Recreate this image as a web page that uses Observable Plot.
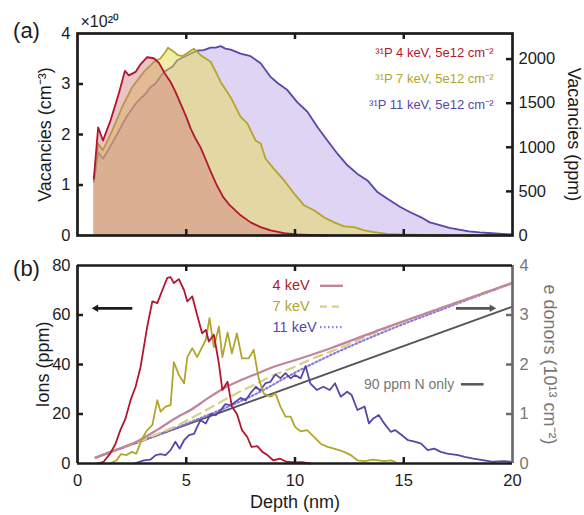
<!DOCTYPE html>
<html>
<head>
<meta charset="utf-8">
<script src="https://cdn.jsdelivr.net/npm/d3@7"></script>
<script src="https://cdn.jsdelivr.net/npm/@observablehq/plot@0.6"></script>
<style>
  body { margin: 0; background: white; }
  #wrap { position: relative; width: 584px; height: 515px; overflow: hidden; }
  #wrap svg { position: absolute; left: 0; }
</style>
</head>
<body>
<div id="wrap"></div>
<script>
// ---------- data (depth nm, value) ----------
// Panel (a): vacancies, units of 1e20 cm^-3
const vac4 = [[0.75,1.12],[0.95,2.14],[1.17,1.88],[1.52,2.28],[1.9,2.81],[2.18,3.26],[2.36,3.17],[2.67,3.24],[2.9,3.39],[3.2,3.53],[3.51,3.51],[3.74,3.42],[4.0,3.22],[4.28,3.04],[4.5,2.85],[4.74,2.61],[5.0,2.35],[5.2,2.12],[5.45,1.9],[5.65,1.75],[5.9,1.5],[6.1,1.29],[6.4,1.0],[6.7,0.76],[7.0,0.6],[7.5,0.40],[7.96,0.26],[8.42,0.165],[8.88,0.10],[9.5,0.046],[10.1,0.02],[10.9,0.007],[11.5,0]];
const vac7 = [[0.75,1.08],[0.95,1.82],[1.17,1.69],[1.6,2.08],[2.06,2.55],[2.52,2.94],[3.05,3.24],[3.59,3.47],[3.8,3.5],[4.05,3.64],[4.16,3.72],[4.43,3.64],[4.62,3.57],[4.82,3.55],[5.1,3.63],[5.35,3.70],[5.66,3.57],[6.12,3.44],[6.35,3.25],[6.58,3.04],[7.04,2.74],[7.5,2.35],[7.81,2.22],[8.19,1.88],[8.42,1.82],[8.65,1.52],[9.03,1.32],[9.5,1.09],[9.96,0.83],[10.41,0.60],[10.87,0.50],[11.33,0.36],[11.8,0.26],[12.26,0.18],[12.72,0.165],[13.18,0.10],[13.64,0.066],[14.25,0.033],[14.9,0.02],[16,0.01],[17,0]];
const vac11 = [[0.75,1.06],[0.95,1.65],[1.17,1.52],[1.45,1.72],[1.75,1.95],[2.21,2.32],[2.67,2.61],[3.13,2.81],[3.36,2.94],[3.59,3.01],[3.97,3.24],[4.36,3.34],[4.59,3.47],[5.05,3.57],[5.5,3.66],[5.8,3.67],[6.12,3.72],[6.35,3.72],[6.58,3.75],[6.8,3.70],[7.04,3.68],[7.5,3.60],[7.96,3.55],[8.42,3.41],[8.88,3.14],[9.2,3.02],[9.65,2.88],[10.1,2.64],[10.57,2.45],[11.03,2.15],[11.49,1.88],[11.95,1.62],[12.41,1.39],[12.87,1.22],[13.33,1.09],[13.79,0.86],[14.25,0.73],[14.86,0.56],[15.3,0.46],[15.8,0.36],[16.2,0.26],[16.7,0.20],[17.1,0.15],[17.6,0.11],[18.0,0.08],[18.5,0.06],[19.2,0.04],[20,0.02]];

// Panel (b): ions (ppm)
const ions4 = [[0.9,0],[1.2,0.7],[1.5,4],[1.75,8],[1.97,13.5],[2.2,18],[2.44,25.6],[2.67,31],[2.9,39],[3.2,55],[3.44,65.5],[3.67,64.8],[3.9,70],[4.13,75],[4.28,75.3],[4.43,72.9],[4.66,74.5],[4.9,70],[5.05,65.5],[5.28,67.5],[5.5,60],[5.73,52.6],[5.9,54],[6.04,49.3],[6.27,52],[6.5,40.5],[6.66,29.7],[6.9,33],[7.1,23],[7.33,20],[7.56,13.5],[7.8,10.8],[8.0,6.7],[8.27,7],[8.5,4.7],[8.73,3.4],[9.0,1.3],[9.3,2],[9.6,0.7],[9.96,0.4],[10.3,0.5],[10.7,0]];
const ions7 = [[1.5,0],[1.8,1.3],[2.0,3.8],[2.26,3.4],[2.5,4.7],[2.7,4],[2.97,10],[3.2,13.5],[3.44,15.5],[3.67,25.6],[3.82,21],[4.05,23],[4.28,23.6],[4.43,41],[4.66,35.8],[4.9,32.4],[5.05,43],[5.28,46.6],[5.5,43],[5.73,47],[5.9,50],[6.07,58.7],[6.27,47],[6.5,55.3],[6.66,43],[6.9,53],[7.1,44.5],[7.33,52.6],[7.56,42.5],[7.87,42.5],[8.1,45.9],[8.33,34.4],[8.56,28.3],[8.87,27],[9.1,28.3],[9.33,23],[9.56,18.9],[9.8,18.9],[10.0,14.8],[10.26,13],[10.56,13.5],[10.87,10.8],[11.18,8],[11.5,6.7],[11.8,6],[12.26,4.7],[12.56,3.4],[12.87,1.3],[13.2,1],[13.6,1.6],[14.1,1],[14.4,1.3],[14.6,0.7]];
const ions11 = [[2.6,0],[3.05,1.3],[3.36,1.6],[3.6,3.4],[3.82,3.8],[4.05,3.4],[4.28,5.4],[4.5,8.8],[4.7,6],[4.9,9.4],[5.13,11.5],[5.36,12],[5.5,14.8],[5.66,17.5],[5.9,16.2],[6.12,20],[6.35,19.5],[6.58,21.5],[6.8,24],[7.04,23.5],[7.27,25],[7.5,26.5],[7.73,25.5],[7.96,28.5],[8.2,31],[8.4,29.5],[8.65,32.5],[8.87,33],[9.1,36],[9.33,34.5],[9.56,36.5],[9.8,34.4],[10.0,35.8],[10.26,34.4],[10.49,39.4],[10.7,32.4],[11.0,29.7],[11.3,31],[11.6,29.7],[11.84,32.4],[12.1,27],[12.4,29],[12.6,27.7],[12.87,21.6],[13.2,23],[13.4,16.2],[13.6,18.2],[13.85,19.6],[14.1,16.2],[14.4,12.8],[14.6,13.5],[14.9,11.5],[15.2,9.4],[15.5,8.8],[15.8,8],[16.1,5.4],[16.4,6],[16.7,4.7],[17.0,4],[17.5,3.4],[17.8,2.7],[18.2,2],[18.7,1.3],[19.1,0.7],[19.6,1],[19.9,0.7]];

// Panel (b): e donors (1e13 cm^-2)
const donors4 = [[0.84,0.12],[1.8,0.28],[2.76,0.45],[3.7,0.69],[4.6,0.94],[5.2,1.08],[6.0,1.32],[6.73,1.52],[7.5,1.68],[8.27,1.82],[9.0,1.95],[9.8,2.06],[11.64,2.33],[13.95,2.71],[16,3.03],[18,3.34],[20,3.65]];
const donors7 = [[0.84,0.12],[1.8,0.27],[2.76,0.43],[3.7,0.6],[4.6,0.77],[5.2,0.91],[6.0,1.1],[6.73,1.28],[7.5,1.46],[8.27,1.62],[9.0,1.78],[9.8,1.92],[10.7,2.1],[11.64,2.26],[12.8,2.47],[14,2.70],[16,3.03],[18,3.34],[20,3.65]];
const donors11 = [[0.84,0.12],[2.76,0.43],[4.0,0.63],[5.2,0.84],[6.73,1.11],[8.27,1.42],[9.8,1.79],[11.64,2.19],[13.5,2.55],[15,2.82],[16.5,3.07],[18,3.32],[20,3.64]];
const donorsN = [[0.84,0.12],[20,3.17]];

// ticks & labels
const xTicks = [0, 5, 10, 15, 20];
const xInner = [5, 10, 15];
const vacTicks = [0, 1, 2, 3, 4];
const ppmTicks = [0, 500, 1000, 1500, 2000];
const ionTicks = [0, 20, 40, 60, 80];
const donorTicks = [0, 1, 2, 3, 4];
const legendA = ["³¹P 4 keV, 5e12 cm⁻²", "³¹P 7 keV, 5e12 cm⁻²", "³¹P 11 keV, 5e12 cm⁻²"];
const legendB = ["4 keV", "7 keV", "11 keV"];
const noteN = "90 ppm N only";

// ---------- styling ----------
const RED = "#b3162e", YEL = "#b2a52c", PUR = "#5846a9";
const PINK = "#c2849a", YDASH = "#d6cf8a", PDOT = "#8a7dda", GREY = "#555555", AXG = "#6b6b6b", GTXT = "#777777";
const INK = "#1c1c1c";
const FONT = "'Liberation Sans', Arial, Helvetica, sans-serif";
const W = 584, ML = 77, MR = 72;
const FW = W - ML - MR;
const X = d => d[0], Y = d => d[1];
const S = d => String(d);
const wrap = document.getElementById("wrap");

function style(top) {
  return {fontFamily: FONT, fontSize: "16.5px", background: "transparent", top: top + "px", color: INK, overflow: "visible"};
}
function label(t, opts) {
  return Plot.text([t], {text: d => d, textAnchor: "middle", lineAnchor: "middle", fill: INK, ...opts});
}

// ---------- panel (a) ----------
const HA = 250, MTA = 33, MBA = 15, FHA = HA - MTA - MBA;
const pa = Plot.plot({
  width: W, height: HA, marginLeft: ML, marginRight: MR, marginTop: MTA, marginBottom: MBA,
  style: style(0),
  x: {domain: [0, 20], axis: null},
  y: {domain: [0, 4], axis: null},
  marks: [
    Plot.areaY(vac11, {x: X, y: Y, fill: "#e0d4f4"}),
    Plot.lineY(vac11, {x: X, y: Y, stroke: PUR, strokeWidth: 1.8}),
    Plot.areaY(vac7, {x: X, y: Y, fill: "#e5db52", fillOpacity: 0.5}),
    Plot.lineY(vac7, {x: X, y: Y, stroke: YEL, strokeWidth: 1.8}),
    Plot.areaY(vac4, {x: X, y: Y, fill: "#cf7f7f", fillOpacity: 0.45}),
    Plot.lineY(vac4, {x: X, y: Y, stroke: RED, strokeWidth: 1.8}),
    Plot.tickX(xInner, {x: d => d, insetTop: FHA - 6, stroke: INK, strokeWidth: 2.5}),
    Plot.tickX(xInner, {x: d => d, insetBottom: FHA - 6, stroke: INK, strokeWidth: 2.5}),
    Plot.tickY([1, 2, 3], {y: d => d, insetRight: FW - 6, stroke: INK, strokeWidth: 2.5}),
    Plot.frame({stroke: INK, strokeWidth: 2.7}),
    Plot.axisY({ticks: vacTicks, tickSize: 0, tickPadding: 7, tickFormat: S, fill: INK}),
    label("Vacancies (cm⁻³)", {frameAnchor: "left", dx: -32, rotate: -90, fontSize: 18}),
    label("×10²⁰", {frameAnchor: "top-left", dx: 3, dy: -12, textAnchor: "start", fontSize: 16}),
    label("(a)", {frameAnchor: "top-left", dx: -51, dy: -3, fontSize: 22}),
    ...legendA.map((t, i) => label(t, {frameAnchor: "top-right", dx: -19, dy: 19 + 26 * i, textAnchor: "end", fontSize: 13, fill: [RED, YEL, PUR][i]}))
  ]
});
wrap.appendChild(pa);

const pa2 = Plot.plot({
  width: W, height: HA, marginLeft: ML, marginRight: MR, marginTop: MTA, marginBottom: MBA,
  style: style(0),
  x: {domain: [0, 20], axis: null},
  y: {domain: [0, 2290], axis: null},
  marks: [
    Plot.tickY(ppmTicks.slice(1), {y: d => d, insetLeft: FW - 6, stroke: INK, strokeWidth: 2.5}),
    Plot.axisY({anchor: "right", ticks: ppmTicks, tickSize: 0, tickPadding: 6, tickFormat: S, fill: INK}),
    label("Vacancies (ppm)", {frameAnchor: "right", dx: 61, rotate: 90, fontSize: 18})
  ]
});
wrap.appendChild(pa2);

// ---------- panel (b) ----------
const HB = 265, MTB = 15, MBB = 52, FHB = HB - MTB - MBB;
const pb2 = Plot.plot({
  width: W, height: HB, marginLeft: ML, marginRight: MR, marginTop: MTB, marginBottom: MBB,
  style: style(250),
  x: {domain: [0, 20], axis: null},
  y: {domain: [0, 4], axis: null},
  marks: [
    Plot.line(donorsN, {x: X, y: Y, stroke: GREY, strokeWidth: 2}),
    Plot.line(donors11, {x: X, y: Y, stroke: PDOT, strokeWidth: 2.2, strokeDasharray: "1.5,2.5", curve: "monotone-x"}),
    Plot.line(donors7, {x: X, y: Y, stroke: YDASH, strokeWidth: 2.2, strokeDasharray: "9,6", curve: "monotone-x"}),
    Plot.line(donors4, {x: X, y: Y, stroke: PINK, strokeWidth: 2.2, curve: "monotone-x"}),
    Plot.tickY([1, 2, 3], {y: d => d, insetLeft: FW - 6, stroke: AXG, strokeWidth: 2.5}),
    Plot.ruleX([20], {stroke: AXG, strokeWidth: 2.7}),
    Plot.axisY({anchor: "right", ticks: donorTicks, tickSize: 0, tickPadding: 7, tickFormat: S, fill: GTXT}),
    label("e donors (10¹³ cm⁻²)", {frameAnchor: "right", dx: 37, rotate: 90, fontSize: 18, fill: GTXT}),
    // right-pointing arrow (annotation)
    Plot.link([0], {x1: 17.4, x2: 19.0, y1: 3.135, y2: 3.135, stroke: GREY, strokeWidth: 2.7}),
    Plot.dot([0], {x: 19.05, y: 3.135, symbol: "triangle2", rotate: 90, r: 3.6, fill: GREY})
  ]
});
wrap.appendChild(pb2);

const pb = Plot.plot({
  width: W, height: HB, marginLeft: ML, marginRight: MR, marginTop: MTB, marginBottom: MBB,
  style: style(250),
  x: {domain: [0, 20]},
  y: {domain: [0, 80], axis: null},
  marks: [
    Plot.line(ions11, {x: X, y: Y, stroke: PUR, strokeWidth: 1.8}),
    Plot.line(ions7, {x: X, y: Y, stroke: YEL, strokeWidth: 1.8}),
    Plot.line(ions4, {x: X, y: Y, stroke: RED, strokeWidth: 1.8}),
    Plot.tickX(xInner, {x: d => d, insetTop: FHB - 6, stroke: INK, strokeWidth: 2.5}),
    Plot.tickX(xInner, {x: d => d, insetBottom: FHB - 6, stroke: INK, strokeWidth: 2.5}),
    Plot.tickY([20, 40, 60], {y: d => d, insetRight: FW - 6, stroke: INK, strokeWidth: 2.5}),
    Plot.ruleY([0, 80], {stroke: INK, strokeWidth: 2.7}),
    Plot.ruleX([0], {stroke: INK, strokeWidth: 2.7}),
    Plot.axisY({ticks: ionTicks, tickSize: 0, tickPadding: 7, tickFormat: S, fill: INK}),
    Plot.axisX({ticks: xTicks, tickSize: 0, tickPadding: 11, tickFormat: S, label: null, fill: INK}),
    label("Ions (ppm)", {frameAnchor: "left", dx: -34, rotate: -90, fontSize: 18}),
    label("Depth (nm)", {frameAnchor: "bottom", dy: 39, fontSize: 18}),
    label("(b)", {frameAnchor: "top-left", dx: -51, dy: 3, fontSize: 22}),
    // left-pointing arrow (annotation)
    Plot.link([0], {x1: 2.52, x2: 0.9, y1: 62.7, y2: 62.7, stroke: INK, strokeWidth: 2.7}),
    Plot.dot([0], {x: 0.85, y: 62.7, symbol: "triangle2", rotate: -90, r: 3.6, fill: INK}),
    // legend
    Plot.text(legendB, {text: d => d, x: 8.97, y: (d, i) => [71.8, 63.4, 55.1][i], textAnchor: "start", lineAnchor: "middle", fontSize: 14.5, fill: (d, i) => [RED, YEL, PUR][i]}),
    Plot.link([0], {x1: 11.15, x2: 12.2, y1: 71.8, y2: 71.8, stroke: PINK, strokeWidth: 2.4}),
    Plot.link([0], {x1: 11.15, x2: 12.2, y1: 63.4, y2: 63.4, stroke: YDASH, strokeWidth: 2.4, strokeDasharray: "7,5"}),
    Plot.link([0], {x1: 11.15, x2: 12.2, y1: 55.1, y2: 55.1, stroke: PDOT, strokeWidth: 2.2, strokeDasharray: "1.5,2.5"}),
    Plot.text([noteN], {text: d => d, x: 17.32, y: 32, textAnchor: "end", lineAnchor: "middle", fontSize: 14, fill: GTXT}),
    Plot.link([0], {x1: 17.63, x2: 18.67, y1: 32, y2: 32, stroke: GREY, strokeWidth: 2.5})
  ]
});
wrap.appendChild(pb);
</script>
</body>
</html>
